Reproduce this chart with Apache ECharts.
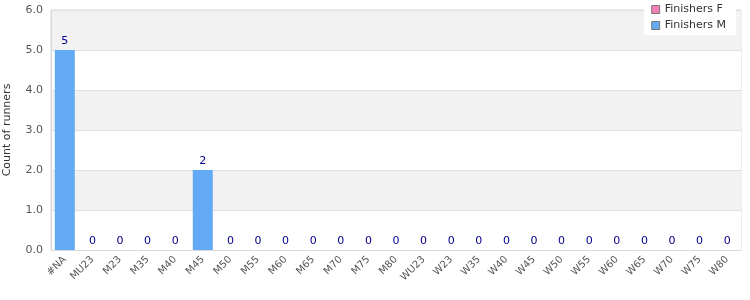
<!DOCTYPE html>
<html><head><meta charset="utf-8">
<script src="https://cdn.jsdelivr.net/npm/echarts@6/dist/echarts.min.js"></script>
<style>html,body{margin:0;padding:0;background:#fff}#c{width:750px;height:300px}</style>
</head><body><div id="c"></div>
<script>
const categories = ['#NA','MU23','M23','M35','M40','M45','M50','M55','M60','M65','M70','M75','M80','WU23','W23','W35','W40','W45','W50','W55','W60','W65','W70','W75','W80'];
const finishersF = [0,0,0,0,0,0,0,0,0,0,0,0,0,0,0,0,0,0,0,0,0,0,0,0,0];
const finishersM = [5,0,0,0,0,2,0,0,0,0,0,0,0,0,0,0,0,0,0,0,0,0,0,0,0];
const yTicks = {min:0, max:6, interval:1};

const chart = echarts.init(document.getElementById('c'), null, {renderer:'canvas'});
chart.setOption({
  animation:false,
  textStyle:{fontFamily:'DejaVu Sans'},
  grid:{left:51, right:9, top:10, bottom:50, show:true, borderColor:'#d9d9d9', borderWidth:1, outerBoundsMode:'none', containLabel:false},
  legend:{
    data:['Finishers F','Finishers M'], orient:'vertical', right:14, top:0,
    backgroundColor:'#fff', padding:[4,10,4,7], itemGap:5,
    itemWidth:8, itemHeight:8, icon:'rect',
    itemStyle:{borderColor:'#777', borderWidth:1},
    textStyle:{fontSize:11, color:'#333', fontFamily:'DejaVu Sans'}
  },
  xAxis:{
    type:'category', data:categories,
    axisLine:{lineStyle:{color:'#d9d9d9'}}, axisTick:{show:false},
    axisLabel:{rotate:45, fontSize:10, color:'#555', interval:0, margin:8, fontFamily:'DejaVu Sans'}
  },
  yAxis:{
    type:'value', min:yTicks.min, max:yTicks.max, interval:yTicks.interval,
    name:'Count of runners', nameLocation:'middle', nameGap:38,
    nameTextStyle:{fontSize:11, color:'#333', fontFamily:'DejaVu Sans'},
    axisLine:{show:true, lineStyle:{color:'#d9d9d9'}}, axisTick:{show:false},
    axisLabel:{fontSize:11, color:'#555', formatter:v=>v.toFixed(1), fontFamily:'DejaVu Sans'},
    splitLine:{lineStyle:{color:'#e0e0e0'}},
    splitArea:{show:true, areaStyle:{color:['#ffffff','#f2f2f2']}}
  },
  series:[
    {name:'Finishers F', type:'bar', stack:'a', data:finishersF, barWidth:20,
     itemStyle:{color:'#f47fb7'}},
    {name:'Finishers M', type:'bar', stack:'a', data:finishersM, barWidth:20,
     itemStyle:{color:'#63aaf5'},
     label:{show:true, position:'top', color:'#00008b', fontSize:11, distance:3, fontFamily:'DejaVu Sans'}}
  ]
});
</script></body></html>
